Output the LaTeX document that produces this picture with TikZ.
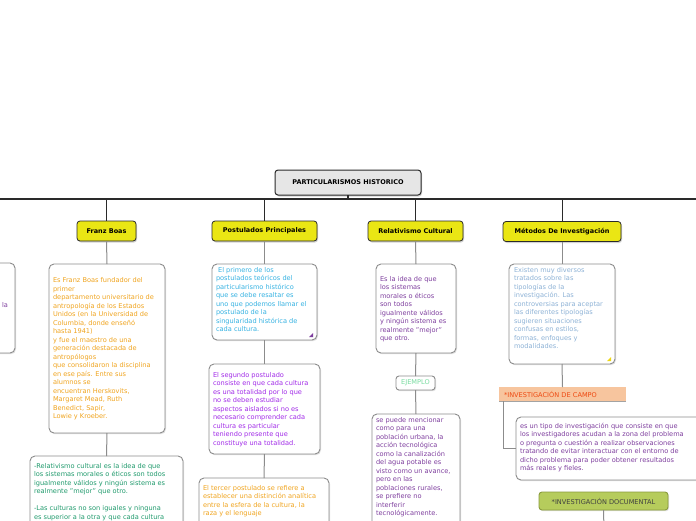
\documentclass[tikz,border=0pt]{standalone}
\usepackage{fontspec}
\setmainfont{DejaVu Sans}
\usetikzlibrary{shadows}
\definecolor{ylw}{HTML}{EAE614}
\definecolor{rootfill}{HTML}{E6E6E6}
\definecolor{dk}{HTML}{2A2A2A}
\definecolor{gline}{HTML}{8C8C8C}
\definecolor{orangeT}{HTML}{F0A41E}
\definecolor{blueT}{HTML}{35B2E2}
\definecolor{purpT}{HTML}{A12AE8}
\definecolor{violT}{HTML}{7E3E9E}
\definecolor{tealT}{HTML}{1F9A6C}
\definecolor{ejG}{HTML}{78DCA0}
\definecolor{grayblueT}{HTML}{8DB2D6}
\definecolor{campFill}{HTML}{F7C59E}
\definecolor{campT}{HTML}{EE4A12}
\definecolor{docFill}{HTML}{B6CC5C}
\definecolor{docBorder}{HTML}{8A9B3E}
\tikzset{
  x=1pt,y=-1pt,
  every node/.style={inner sep=0pt,outer sep=0pt},
  txt/.style={font=\fontsize{6.6}{8.5}\selectfont,align=left,anchor=north west},
  rootbox/.style={draw=dk,line width=1pt,fill=rootfill,rounded corners=3pt,
    drop shadow={shadow xshift=1pt,shadow yshift=-1.5pt,opacity=0.35},
    font=\bfseries\fontsize{6.5}{8}\selectfont},
  ybox/.style={draw=dk,line width=0.8pt,fill=ylw,rounded corners=3pt,
    drop shadow={shadow xshift=1pt,shadow yshift=-1.5pt,opacity=0.35},
    font=\bfseries\fontsize{6.5}{8}\selectfont},
  tbox/.style={draw=gline,line width=0.9pt,fill=white,rounded corners=5pt,anchor=north west,
    drop shadow={shadow xshift=1pt,shadow yshift=-1.2pt,opacity=0.25}},
  bar/.style={draw=dk,line width=2pt},
  branch/.style={draw=dk,line width=1pt},
  sub/.style={draw=gline,line width=1pt},
}
\begin{document}
\begin{tikzpicture}
\useasboundingbox (0,0) rectangle (696,520);
\clip (0,0) rectangle (696,520);
\fill[white] (0,0) rectangle (696,520);

% bar
\coordinate (barL) at (0,199);
\coordinate (barR) at (696,199);
\draw[bar] (barL) -- (barR);

% root
\node[rootbox,minimum width=146pt,minimum height=25pt] (root) at (348,182.5) {PARTICULARISMOS HISTORICO};
\draw[bar] (root.south) -- (root.south |- barL);

% level 1
\node[ybox,minimum width=59pt,minimum height=20pt] (fb) at (106.5,231) {Franz Boas};
\node[ybox,minimum width=105pt,minimum height=20pt] (pp) at (264.5,231) {Postulados Principales};
\node[ybox,minimum width=95pt,minimum height=20pt] (rc) at (415.5,231) {Relativismo Cultural};
\node[ybox,minimum width=118pt,minimum height=20pt] (mi) at (562,231.5) {Métodos De Investigación};
\foreach \n in {fb,pp,rc,mi} { \draw[branch] (\n.north |- barL) -- (\n.north); }

% left partial box
\node[tbox,minimum width=40pt,minimum height=90pt] (lpart) at (-25,263) {};
\node[txt,text=violT] (lpartt) at (2,302) {la};

% Franz Boas column
\node[tbox,minimum width=116pt,minimum height=169pt] (fbt) at (49,264) {};
\node[txt,text=orangeT] (fbtt) at (53,277.5) {Es Franz Boas fundador del\\primer\\departamento universitario de\\antropología de los Estados\\Unidos (en la Universidad de\\Columbia, donde enseñó\\hasta 1941)\\y fue el maestro de una\\generación destacada de\\antropólogos\\que consolidaron la disciplina\\en ese país. Entre sus\\alumnos se\\encuentran Herskovits,\\Margaret Mead, Ruth\\Benedict, Sapir,\\Lowie y Kroeber.};
\draw[sub] (fb.south) -- (fbt.north);

\node[tbox,minimum width=153pt,minimum height=90pt] (relt) at (30,456) {};
\node[txt,text=tealT] (reltt) at (34,463) {-Relativismo cultural es la idea de que\\los sistemas morales o éticos son todos\\igualmente válidos y ningún sistema es\\realmente "mejor" que otro.\\[8.5pt]-Las culturas no son iguales y ninguna\\es superior a la otra y que cada cultura};
\draw[sub] (fbt.south) -- (relt.north);

% Postulados column
\node[tbox,minimum width=105pt,minimum height=76pt] (pp1) at (212,264) {};
\node[txt,text=blueT] (pp1t) at (216,267) {\ El primero de los\\postulados teóricos del\\particularismo histórico\\que se debe resaltar es\\uno que podemos llamar el\\postulado de la\\singularidad histórica de\\cada cultura.};
\fill[violT] (313,333) -- (313,337) -- (309,337) -- cycle;
\draw[sub] (pp.south) -- (pp1.north);

\node[tbox,minimum width=111pt,minimum height=90pt] (pp2) at (209,364) {};
\node[txt,text=purpT] (pp2t) at (213,372) {El segundo postulado\\consiste en que cada cultura\\es una totalidad por lo que\\no se deben estudiar\\aspectos aislados si no es\\necesario comprender cada\\cultura es particular\\teniendo presente que\\constituye una totalidad.};
\draw[sub] (pp1.south) -- (pp2.north);

\node[tbox,minimum width=130pt,minimum height=60pt] (pp3) at (199,478) {};
\node[txt,text=orangeT] (pp3t) at (203,485) {El tercer postulado se refiere a\\establecer una distinción analítica\\entre la esfera de la cultura, la\\raza y el lenguaje};
\draw[sub] (pp2.south) -- (pp3.north);

% Relativismo column
\node[tbox,minimum width=80pt,minimum height=89pt] (rct) at (376,264) {};
\node[txt,text=violT] (rctt) at (380,276) {Es la idea de que\\los sistemas\\morales o éticos\\son todos\\igualmente válidos\\y ningún sistema es\\realmente "mejor"\\que otro.};
\draw[sub] (rc.south) -- (rct.north);

\node[draw=gline,line width=0.9pt,fill=white,rounded corners=3pt,minimum width=39pt,minimum height=14pt,
  drop shadow={shadow xshift=1pt,shadow yshift=-1.2pt,opacity=0.25},
  font=\fontsize{6.6}{8}\selectfont,text=ejG] (ej) at (415.5,383) {EJEMPLO};
\draw[sub] (rct.south) -- (ej.north);

\node[tbox,minimum width=88pt,minimum height=120pt] (ejt) at (372,414) {};
\node[txt,text=violT] (ejtt) at (376,417) {se puede mencionar\\como para una\\población urbana, la\\acción tecnológica\\como la canalización\\del agua potable es\\visto como un avance,\\pero en las\\poblaciones rurales,\\se prefiere no\\interferir\\tecnológicamente.};
\draw[sub] (ej.south) -- (ejt.north);

% Metodos column
\node[tbox,minimum width=106pt,minimum height=100pt] (mit) at (509,264) {};
\node[txt,text=grayblueT] (mitt) at (514,267) {Existen muy diversos\\tratados sobre las\\tipologías de la\\investigación. Las\\controversias para aceptar\\las diferentes tipologías\\sugieren situaciones\\confusas en estilos,\\formas, enfoques y\\modalidades.};
\fill[ylw!85!orange] (611,357) -- (611,361) -- (607,361) -- cycle;
\draw[sub] (mi.south) -- (mit.north);

\node[fill=campFill,minimum width=127pt,minimum height=14pt,text=campT,
  font=\fontsize{6.6}{8}\selectfont,anchor=north west,text width=123pt,align=left] (camp) at (499,387) {\hspace*{3pt}*INVESTIGACIÓN DE CAMPO};
\draw[draw=gline!80,line width=0.8pt] (camp.south west) -- (camp.south east);
\draw[sub] (mit.south) -- (camp.north);

\node[tbox,minimum width=200pt,minimum height=63pt] (campt) at (516,417) {};
\node[txt,text=violT] (camptt) at (520,423) {es un tipo de investigación que consiste en que\\los investigadores acudan a la zona del problema\\o pregunta o cuestión a realizar observaciones\\tratando de evitar interactuar con el entorno de\\dicho problema para poder obtener resultados\\más reales y fieles.};
\coordinate (campL) at ([xshift=4pt]camp.south west);
\draw[sub] (campL) |- (campt.west);

\node[draw=docBorder,line width=0.9pt,fill=docFill,rounded corners=3pt,minimum width=129pt,minimum height=18pt,
  drop shadow={shadow xshift=1pt,shadow yshift=-1.2pt,opacity=0.25},
  font=\fontsize{6.6}{8}\selectfont,text=black!75] (doc) at (603.5,501) {*INVESTIGACIÓN DOCUMENTAL};
\coordinate (docEnd) at (604,530);
\draw[sub] (doc.south) -- (docEnd);
\end{tikzpicture}
\end{document}
